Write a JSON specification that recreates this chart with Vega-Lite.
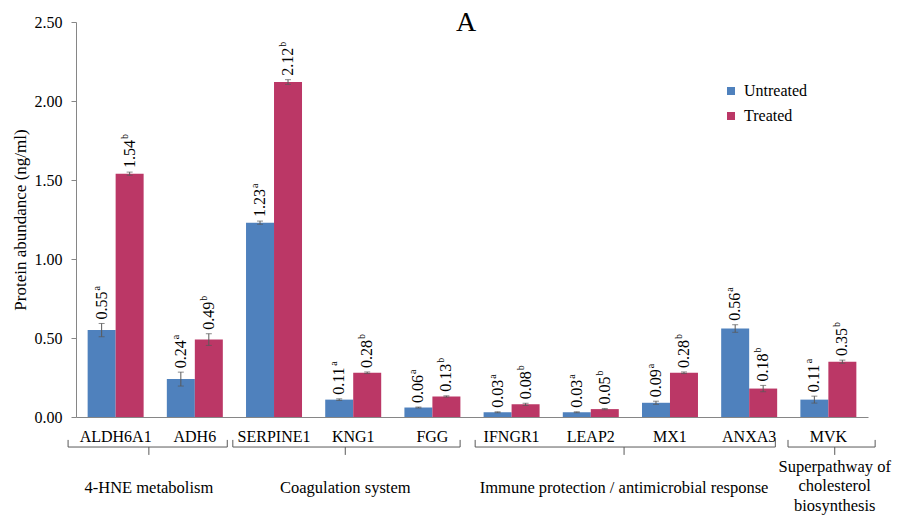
{
  "$schema": "https://vega.github.io/schema/vega-lite/v6.json",
  "autosize": "none",
  "padding": {"left": 76, "top": 22, "right": 31, "bottom": 99},
  "width": 792,
  "height": 395,
  "title": {
    "text": "A",
    "fontSize": 28,
    "fontWeight": "normal",
    "font": "Liberation Serif, Times New Roman, serif",
    "color": "#000000",
    "anchor": "middle",
    "frame": "group",
    "baseline": "top",
    "offset": -23,
    "dx": -6
  },
  "config": {
    "font": "Liberation Serif, Times New Roman, serif",
    "view": {"stroke": null},
    "text": {"font": "Liberation Serif, Times New Roman, serif"},
    "style": {
      "guide-label": {"font": "Liberation Serif, Times New Roman, serif"},
      "guide-title": {"font": "Liberation Serif, Times New Roman, serif"}
    },
    "axis": {
      "labelFont": "Liberation Serif, Times New Roman, serif",
      "labelFontSize": 16,
      "labelColor": "#000000",
      "titleFont": "Liberation Serif, Times New Roman, serif",
      "titleFontWeight": "normal",
      "titleColor": "#000000",
      "domainColor": "#868686",
      "tickColor": "#868686",
      "grid": false
    }
  },
  "datasets": {
    "abundance": [
      {"gene": "ALDH6A1", "treatment": "Untreated", "value": 0.55, "lo": 0.508, "hi": 0.592, "sig": "a"},
      {"gene": "ALDH6A1", "treatment": "Treated", "value": 1.54, "lo": 1.530, "hi": 1.550, "sig": "b"},
      {"gene": "ADH6", "treatment": "Untreated", "value": 0.24, "lo": 0.196, "hi": 0.284, "sig": "a"},
      {"gene": "ADH6", "treatment": "Treated", "value": 0.49, "lo": 0.453, "hi": 0.527, "sig": "b"},
      {"gene": "SERPINE1", "treatment": "Untreated", "value": 1.23, "lo": 1.220, "hi": 1.240, "sig": "a"},
      {"gene": "SERPINE1", "treatment": "Treated", "value": 2.12, "lo": 2.105, "hi": 2.135, "sig": "b"},
      {"gene": "KNG1", "treatment": "Untreated", "value": 0.11, "lo": 0.105, "hi": 0.115, "sig": "a"},
      {"gene": "KNG1", "treatment": "Treated", "value": 0.28, "lo": 0.275, "hi": 0.285, "sig": "b"},
      {"gene": "FGG", "treatment": "Untreated", "value": 0.06, "lo": 0.057, "hi": 0.063, "sig": "a"},
      {"gene": "FGG", "treatment": "Treated", "value": 0.13, "lo": 0.126, "hi": 0.134, "sig": "b"},
      {"gene": "IFNGR1", "treatment": "Untreated", "value": 0.03, "lo": 0.027, "hi": 0.033, "sig": "a"},
      {"gene": "IFNGR1", "treatment": "Treated", "value": 0.08, "lo": 0.073, "hi": 0.087, "sig": "b"},
      {"gene": "LEAP2", "treatment": "Untreated", "value": 0.03, "lo": 0.027, "hi": 0.033, "sig": "a"},
      {"gene": "LEAP2", "treatment": "Treated", "value": 0.05, "lo": 0.046, "hi": 0.054, "sig": "b"},
      {"gene": "MX1", "treatment": "Untreated", "value": 0.09, "lo": 0.080, "hi": 0.100, "sig": "a"},
      {"gene": "MX1", "treatment": "Treated", "value": 0.28, "lo": 0.275, "hi": 0.285, "sig": "b"},
      {"gene": "ANXA3", "treatment": "Untreated", "value": 0.56, "lo": 0.536, "hi": 0.584, "sig": "a"},
      {"gene": "ANXA3", "treatment": "Treated", "value": 0.18, "lo": 0.160, "hi": 0.200, "sig": "b"},
      {"gene": "MVK", "treatment": "Untreated", "value": 0.11, "lo": 0.088, "hi": 0.132, "sig": "a"},
      {"gene": "MVK", "treatment": "Treated", "value": 0.35, "lo": 0.340, "hi": 0.360, "sig": "b"}
    ],
    "pathways": [
      {"pathway": "4-HNE metabolism", "start": -0.1, "end": 1.91, "center": 0.92},
      {"pathway": "Coagulation system", "start": 1.98, "end": 4.85, "center": 3.4},
      {"pathway": "Immune protection / antimicrobial response", "start": 5.04, "end": 8.83, "center": 6.92},
      {"pathway": "Superpathway of\ncholesterol\nbiosynthesis", "start": 8.99, "end": 10.09, "center": 9.58}
    ]
  },
  "resolve": {"scale": {"x": "independent"}, "axis": {"x": "independent"}},
  "layer": [
    {
      "data": {"name": "abundance"},
      "encoding": {
        "x": {
          "field": "gene",
          "type": "nominal",
          "sort": null,
          "scale": {"paddingInner": 0.293, "paddingOuter": 0.147},
          "axis": {
            "title": null,
            "ticks": false,
            "labelPadding": 11,
            "labelAngle": 0,
            "labelFont": "Liberation Serif, Times New Roman, serif",
            "labelFontSize": 16
          }
        },
        "xOffset": {
          "field": "treatment",
          "type": "nominal",
          "sort": ["Untreated", "Treated"]
        },
        "y": {
          "field": "value",
          "type": "quantitative",
          "scale": {"domain": [0, 2.5], "nice": false, "zero": true},
          "axis": {
            "title": "Protein abundance (ng/ml)",
            "titleFont": "Liberation Serif, Times New Roman, serif",
            "titleFontSize": 17,
            "titleFontWeight": "normal",
            "titlePadding": 5,
            "labelFont": "Liberation Serif, Times New Roman, serif",
            "labelFontSize": 16,
            "values": [0, 0.5, 1, 1.5, 2, 2.5],
            "format": ".2f",
            "tickSize": 5,
            "labelPadding": 9
          }
        }
      },
      "layer": [
        {
          "mark": {"type": "bar"},
          "encoding": {
            "color": {
              "field": "treatment",
              "type": "nominal",
              "sort": ["Untreated", "Treated"],
              "scale": {"domain": ["Untreated", "Treated"], "range": ["#4F81BD", "#BB3766"]},
              "legend": {
                "title": null,
                "orient": "none",
                "legendX": 647,
                "legendY": 61,
                "symbolType": "square",
                "symbolSize": 64,
                "symbolStrokeWidth": 0,
                "labelFont": "Liberation Serif, Times New Roman, serif",
                "labelFontSize": 16,
                "labelColor": "#000000",
                "rowPadding": 9,
                "labelOffset": 5
              }
            }
          }
        },
        {
          "mark": {"type": "rule", "color": "#595959", "strokeWidth": 1},
          "encoding": {
            "y": {"field": "lo", "type": "quantitative"},
            "y2": {"field": "hi"}
          }
        },
        {
          "mark": {"type": "tick", "color": "#595959", "thickness": 1, "size": 6, "orient": "horizontal"},
          "encoding": {"y": {"field": "lo", "type": "quantitative"}}
        },
        {
          "mark": {"type": "tick", "color": "#595959", "thickness": 1, "size": 6, "orient": "horizontal"},
          "encoding": {"y": {"field": "hi", "type": "quantitative"}}
        },
        {
          "mark": {"type": "text", "font": "Liberation Serif, Times New Roman, serif", "angle": 270, "align": "left", "baseline": "middle", "dx": 4, "fontSize": 16, "color": "#000000"},
          "encoding": {
            "y": {"field": "hi", "type": "quantitative"},
            "text": {"field": "value", "type": "quantitative", "format": ".2f"}
          }
        },
        {
          "mark": {"type": "text", "font": "Liberation Serif, Times New Roman, serif", "angle": 270, "align": "left", "baseline": "middle", "dx": 33, "dy": -5, "fontSize": 10, "color": "#000000"},
          "encoding": {
            "y": {"field": "hi", "type": "quantitative"},
            "text": {"field": "sig", "type": "nominal"}
          }
        }
      ]
    },
    {
      "data": {"name": "pathways"},
      "encoding": {
        "x": {"type": "quantitative", "scale": {"domain": [0, 10], "nice": false, "zero": false}, "axis": null}
      },
      "layer": [
        {
          "mark": {"type": "rule", "color": "#595959", "strokeWidth": 1},
          "encoding": {
            "x": {"field": "start", "type": "quantitative", "scale": {"domain": [0, 10], "nice": false, "zero": false}, "axis": null},
            "x2": {"field": "end"},
            "y": {"datum": -0.19, "type": "quantitative"}
          }
        },
        {
          "mark": {"type": "rule", "color": "#595959", "strokeWidth": 1},
          "encoding": {
            "x": {"field": "start", "type": "quantitative", "scale": {"domain": [0, 10], "nice": false, "zero": false}, "axis": null},
            "y": {"datum": -0.145, "type": "quantitative"},
            "y2": {"datum": -0.19}
          }
        },
        {
          "mark": {"type": "rule", "color": "#595959", "strokeWidth": 1},
          "encoding": {
            "x": {"field": "end", "type": "quantitative", "scale": {"domain": [0, 10], "nice": false, "zero": false}, "axis": null},
            "y": {"datum": -0.145, "type": "quantitative"},
            "y2": {"datum": -0.19}
          }
        },
        {
          "mark": {"type": "rule", "color": "#595959", "strokeWidth": 1},
          "encoding": {
            "x": {"field": "center", "type": "quantitative", "scale": {"domain": [0, 10], "nice": false, "zero": false}, "axis": null},
            "y": {"datum": -0.19, "type": "quantitative"},
            "y2": {"datum": -0.24}
          }
        },
        {
          "transform": [{"filter": "indexof(datum.pathway, '\\n') < 0"}],
          "mark": {"type": "text", "font": "Liberation Serif, Times New Roman, serif", "align": "center", "baseline": "middle", "fontSize": 16.5, "color": "#000000"},
          "encoding": {
            "x": {"field": "center", "type": "quantitative", "scale": {"domain": [0, 10], "nice": false, "zero": false}, "axis": null},
            "y": {"datum": -0.45, "type": "quantitative"},
            "text": {"field": "pathway", "type": "nominal"}
          }
        },
        {
          "transform": [{"filter": "indexof(datum.pathway, '\\n') >= 0"}],
          "mark": {"type": "text", "font": "Liberation Serif, Times New Roman, serif", "align": "center", "baseline": "middle", "fontSize": 16.5, "lineBreak": "\n", "lineHeight": 19.5, "color": "#000000"},
          "encoding": {
            "x": {"field": "center", "type": "quantitative", "scale": {"domain": [0, 10], "nice": false, "zero": false}, "axis": null},
            "y": {"datum": -0.315, "type": "quantitative"},
            "text": {"field": "pathway", "type": "nominal"}
          }
        }
      ]
    }
  ]
}
